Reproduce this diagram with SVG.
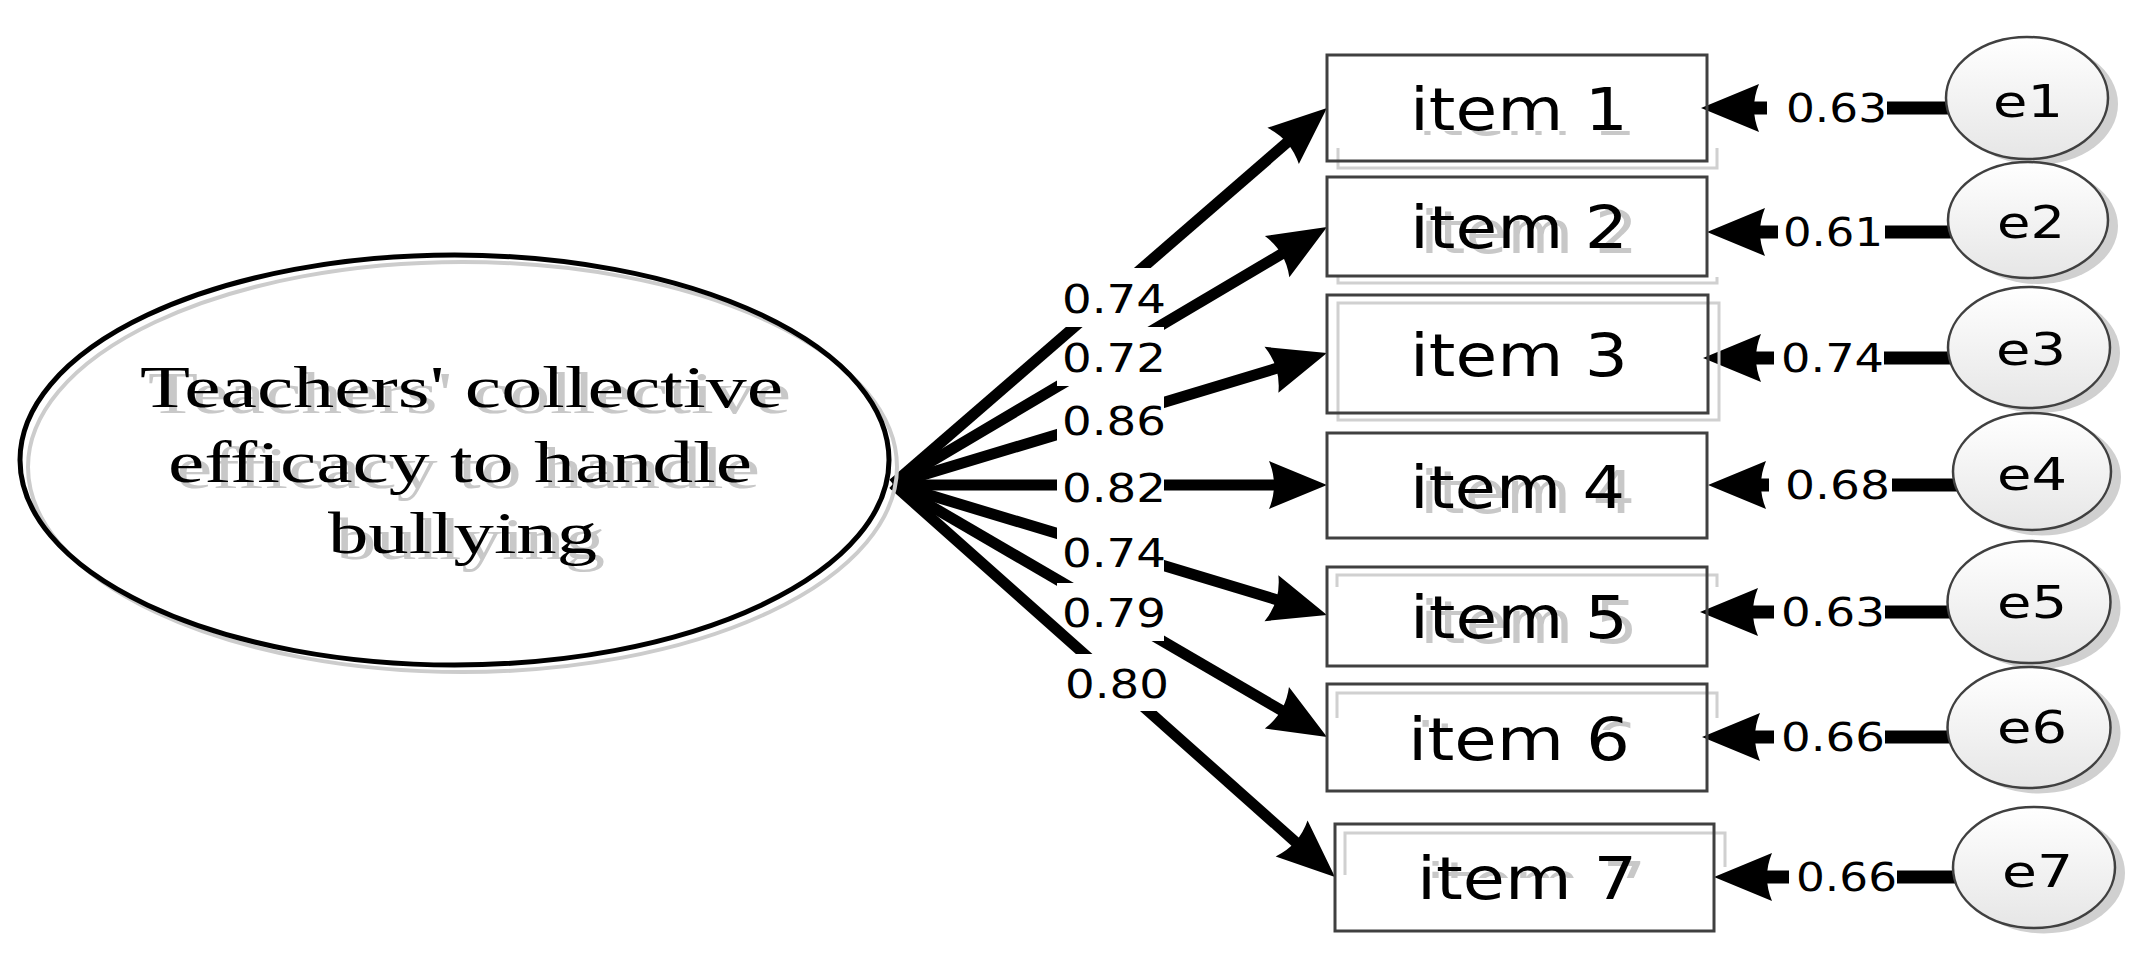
<svg xmlns="http://www.w3.org/2000/svg" width="2155" height="961" viewBox="0 0 2155 961">
<style>
.bg{fill:#fff}
.ld{fill:none;stroke:#000;stroke-width:11;marker-end:url(#ah)}
.er{fill:none;stroke:#000;stroke-width:13;marker-end:url(#ah)}
.num{font-family:"DejaVu Sans","Liberation Sans",sans-serif;font-size:38.5px;fill:#000}
.lat{font-family:"Liberation Serif","Times New Roman",serif;font-size:60px;fill:#000}
.lats{font-family:"Liberation Serif","Times New Roman",serif;font-size:60px;fill:#c8c8c8}
.box{fill:none;stroke:#404040;stroke-width:3}
.bsh{fill:none;stroke:#d0d0d0;stroke-width:3}
.it{font-family:"DejaVu Sans","Liberation Sans",sans-serif;font-size:58px;fill:#000}
.its{font-family:"DejaVu Sans","Liberation Sans",sans-serif;font-size:58px;fill:#c8c8c8}
.ee{fill:url(#eg);stroke:#404040;stroke-width:2.5}
.esh{fill:#d0d0d0}
.et{font-family:"DejaVu Sans","Liberation Sans",sans-serif;font-size:45px;fill:#000}
</style>
<defs>
<marker id="ah" markerUnits="userSpaceOnUse" markerWidth="70" markerHeight="60" viewBox="-10 -30 70 60" refX="0" refY="0" orient="auto" overflow="visible">
<path d="M50,0 L-8,-24 Q2,0 -8,24 Z" fill="#000"/>
</marker>
<linearGradient id="eg" x1="0" y1="0" x2="0" y2="1">
<stop offset="0" stop-color="#ffffff"/>
<stop offset="1" stop-color="#e6e6e6"/>
</linearGradient>
<mask id="m1" maskUnits="userSpaceOnUse" x="0" y="0" width="2155" height="961"><rect width="2155" height="961" fill="#fff"/><rect x="1057" y="268" width="107" height="59" fill="#000"/></mask>
<mask id="m2" maskUnits="userSpaceOnUse" x="0" y="0" width="2155" height="961"><rect width="2155" height="961" fill="#fff"/><rect x="1057" y="327" width="107" height="59" fill="#000"/></mask>
<mask id="m3" maskUnits="userSpaceOnUse" x="0" y="0" width="2155" height="961"><rect width="2155" height="961" fill="#fff"/><rect x="1057" y="390" width="107" height="59" fill="#000"/></mask>
<mask id="m4" maskUnits="userSpaceOnUse" x="0" y="0" width="2155" height="961"><rect width="2155" height="961" fill="#fff"/><rect x="1057" y="457" width="107" height="59" fill="#000"/></mask>
<mask id="m5" maskUnits="userSpaceOnUse" x="0" y="0" width="2155" height="961"><rect width="2155" height="961" fill="#fff"/><rect x="1057" y="522" width="107" height="59" fill="#000"/></mask>
<mask id="m6" maskUnits="userSpaceOnUse" x="0" y="0" width="2155" height="961"><rect width="2155" height="961" fill="#fff"/><rect x="1057" y="583" width="107" height="58" fill="#000"/></mask>
<mask id="m7" maskUnits="userSpaceOnUse" x="0" y="0" width="2155" height="961"><rect width="2155" height="961" fill="#fff"/><rect x="1060" y="654" width="107" height="57" fill="#000"/></mask>
<clipPath id="c1"><rect x="1300" y="131" width="450" height="7"/></clipPath>
<clipPath id="c6"><rect x="1300" y="720" width="450" height="10"/></clipPath>
<clipPath id="c7"><rect x="1300" y="861" width="450" height="17"/></clipPath>
</defs>
<rect class="bg" x="0" y="0" width="2155" height="961"/>

<g id="connectors">
<path class="ld" d="M893,484 L1289.2,140.7" mask="url(#m1)"/>
<path class="ld" d="M893,484 L1284,252.5" mask="url(#m2)"/>
<path class="ld" d="M893,484 L1279.1,367.5" mask="url(#m3)"/>
<path class="ld" d="M893,485 L1277,485" mask="url(#m4)"/>
<path class="ld" d="M893,484 L1279.1,600.5" mask="url(#m5)"/>
<path class="ld" d="M893,484 L1283.8,711.8" mask="url(#m6)"/>
<path class="ld" d="M893,484 L1297.6,843.8" mask="url(#m7)"/>
<text class="num" x="1062" y="313" textLength="104" lengthAdjust="spacingAndGlyphs">0.74</text>
<text class="num" x="1062" y="372" textLength="104" lengthAdjust="spacingAndGlyphs">0.72</text>
<text class="num" x="1062" y="435" textLength="104" lengthAdjust="spacingAndGlyphs">0.86</text>
<text class="num" x="1062" y="502" textLength="104" lengthAdjust="spacingAndGlyphs">0.82</text>
<text class="num" x="1062" y="567" textLength="104" lengthAdjust="spacingAndGlyphs">0.74</text>
<text class="num" x="1062" y="627" textLength="104" lengthAdjust="spacingAndGlyphs">0.79</text>
<text class="num" x="1065" y="698" textLength="104" lengthAdjust="spacingAndGlyphs">0.80</text>

<path class="er" d="M2027,108 H1751"/>
<path class="er" d="M2028,232 H1757"/>
<path class="er" d="M2029,358 H1753"/>
<path class="er" d="M2032,485 H1758"/>
<path class="er" d="M2029,612 H1750"/>
<path class="er" d="M2029,737 H1752"/>
<path class="er" d="M2034,877 H1764"/>
<rect class="bg" x="1767" y="90" width="120" height="36"/>
<rect class="bg" x="1778" y="214" width="107" height="36"/>
<rect class="bg" x="1774" y="340" width="110" height="36"/>
<rect class="bg" x="1769" y="467" width="123" height="36"/>
<rect class="bg" x="1774" y="594" width="111" height="36"/>
<rect class="bg" x="1774" y="719" width="111" height="36"/>
<rect class="bg" x="1789" y="859" width="108" height="36"/>
<text class="num" x="1786" y="122" textLength="101" lengthAdjust="spacingAndGlyphs">0.63</text>
<text class="num" x="1783" y="246" textLength="100" lengthAdjust="spacingAndGlyphs">0.61</text>
<text class="num" x="1781" y="372" textLength="103" lengthAdjust="spacingAndGlyphs">0.74</text>
<text class="num" x="1785" y="499" textLength="105" lengthAdjust="spacingAndGlyphs">0.68</text>
<text class="num" x="1781" y="626" textLength="104" lengthAdjust="spacingAndGlyphs">0.63</text>
<text class="num" x="1781" y="751" textLength="104" lengthAdjust="spacingAndGlyphs">0.66</text>
<text class="num" x="1796" y="891" textLength="101" lengthAdjust="spacingAndGlyphs">0.66</text>
</g>

<g id="latent">
<ellipse cx="462.5" cy="467" rx="434.5" ry="205" fill="none" stroke="#cccccc" stroke-width="4"/>
<ellipse cx="454.5" cy="460" rx="434.5" ry="205" fill="none" stroke="#000" stroke-width="5"/>
<text class="lats" x="148" y="413" textLength="643" lengthAdjust="spacingAndGlyphs">Teachers' collective</text>
<text class="lats" x="176" y="488" textLength="584" lengthAdjust="spacingAndGlyphs">efficacy to handle</text>
<text class="lats" x="336" y="559" textLength="269" lengthAdjust="spacingAndGlyphs">bullying</text>
<text class="lat" x="140" y="407" textLength="643" lengthAdjust="spacingAndGlyphs">Teachers' collective</text>
<text class="lat" x="168" y="482" textLength="584" lengthAdjust="spacingAndGlyphs">efficacy to handle</text>
<text class="lat" x="328" y="553" textLength="269" lengthAdjust="spacingAndGlyphs">bullying</text>
</g>

<g id="item1">
<path class="bsh" d="M1338,148 V168 H1717 V148"/>
<text class="its" x="1418" y="135" textLength="218" lengthAdjust="spacingAndGlyphs" clip-path="url(#c1)">item 1</text>
<rect class="box" x="1327" y="55" width="380" height="106"/>
<text class="it" x="1410" y="130" textLength="218" lengthAdjust="spacingAndGlyphs">item 1</text>
</g>
<g id="item2">
<path class="bsh" d="M1338,277 V283 H1717 V277"/>
<text class="its" x="1420" y="253" textLength="218" lengthAdjust="spacingAndGlyphs">item 2</text>
<rect class="box" x="1327" y="177" width="380" height="99"/>
<text class="it" x="1410" y="248" textLength="218" lengthAdjust="spacingAndGlyphs">item 2</text>
</g>
<g id="item3">
<rect class="bsh" x="1338" y="303" width="381" height="117"/>
<rect class="box" x="1327" y="295" width="381" height="118"/>
<text class="it" x="1410" y="376" textLength="218" lengthAdjust="spacingAndGlyphs">item 3</text>
</g>
<g id="item4">
<text class="its" x="1420" y="513" textLength="215" lengthAdjust="spacingAndGlyphs">item 4</text>
<rect class="box" x="1327" y="433" width="380" height="105"/>
<text class="it" x="1410" y="508" textLength="215" lengthAdjust="spacingAndGlyphs">item 4</text>
</g>
<g id="item5">
<path class="bsh" d="M1337,587 V575 H1717 V587"/>
<text class="its" x="1420" y="643" textLength="218" lengthAdjust="spacingAndGlyphs">item 5</text>
<rect class="box" x="1327" y="567" width="380" height="99"/>
<text class="it" x="1410" y="638" textLength="218" lengthAdjust="spacingAndGlyphs">item 5</text>
</g>
<g id="item6">
<path class="bsh" d="M1337,718 V693 H1717 V718"/>
<text class="its" x="1416" y="765" textLength="222" lengthAdjust="spacingAndGlyphs" clip-path="url(#c6)">item 6</text>
<rect class="box" x="1327" y="684" width="380" height="107"/>
<text class="it" x="1408" y="760" textLength="222" lengthAdjust="spacingAndGlyphs">item 6</text>
</g>
<g id="item7">
<path class="bsh" d="M1345,875 V833 H1725 V867"/>
<text class="its" x="1426" y="904" textLength="220" lengthAdjust="spacingAndGlyphs" clip-path="url(#c7)">item 7</text>
<rect class="box" x="1335" y="824" width="379" height="107"/>
<text class="it" x="1417" y="899" textLength="220" lengthAdjust="spacingAndGlyphs">item 7</text>
</g>

<g id="e1">
<ellipse class="esh" cx="2037" cy="104" rx="81" ry="61"/>
<ellipse class="ee" cx="2027" cy="98" rx="81" ry="61"/>
<text class="et" x="1993" y="117" textLength="70" lengthAdjust="spacingAndGlyphs">e1</text>
</g>
<g id="e2">
<ellipse class="esh" cx="2038" cy="226" rx="80" ry="58"/>
<ellipse class="ee" cx="2028" cy="220" rx="80" ry="58"/>
<text class="et" x="1997" y="238" textLength="68" lengthAdjust="spacingAndGlyphs">e2</text>
</g>
<g id="e3">
<ellipse class="esh" cx="2039" cy="353" rx="81" ry="60"/>
<ellipse class="ee" cx="2029" cy="347.5" rx="81" ry="60.5"/>
<text class="et" x="1996" y="365" textLength="70" lengthAdjust="spacingAndGlyphs">e3</text>
</g>
<g id="e4">
<ellipse class="esh" cx="2042" cy="477" rx="79" ry="58.5"/>
<ellipse class="ee" cx="2032" cy="471.5" rx="79" ry="58.5"/>
<text class="et" x="1997" y="490" textLength="70" lengthAdjust="spacingAndGlyphs">e4</text>
</g>
<g id="e5">
<ellipse class="esh" cx="2039" cy="608" rx="81.5" ry="61"/>
<ellipse class="ee" cx="2029" cy="602" rx="81.5" ry="61"/>
<text class="et" x="1997" y="618" textLength="70" lengthAdjust="spacingAndGlyphs">e5</text>
</g>
<g id="e6">
<ellipse class="esh" cx="2039" cy="733" rx="81.5" ry="60.5"/>
<ellipse class="ee" cx="2029" cy="727.5" rx="81.5" ry="60.5"/>
<text class="et" x="1997" y="743" textLength="70" lengthAdjust="spacingAndGlyphs">e6</text>
</g>
<g id="e7">
<ellipse class="esh" cx="2044" cy="873" rx="81" ry="60.5"/>
<ellipse class="ee" cx="2034" cy="867.5" rx="81" ry="60.5"/>
<text class="et" x="2002" y="887" textLength="71" lengthAdjust="spacingAndGlyphs">e7</text>
</g>
</svg>
